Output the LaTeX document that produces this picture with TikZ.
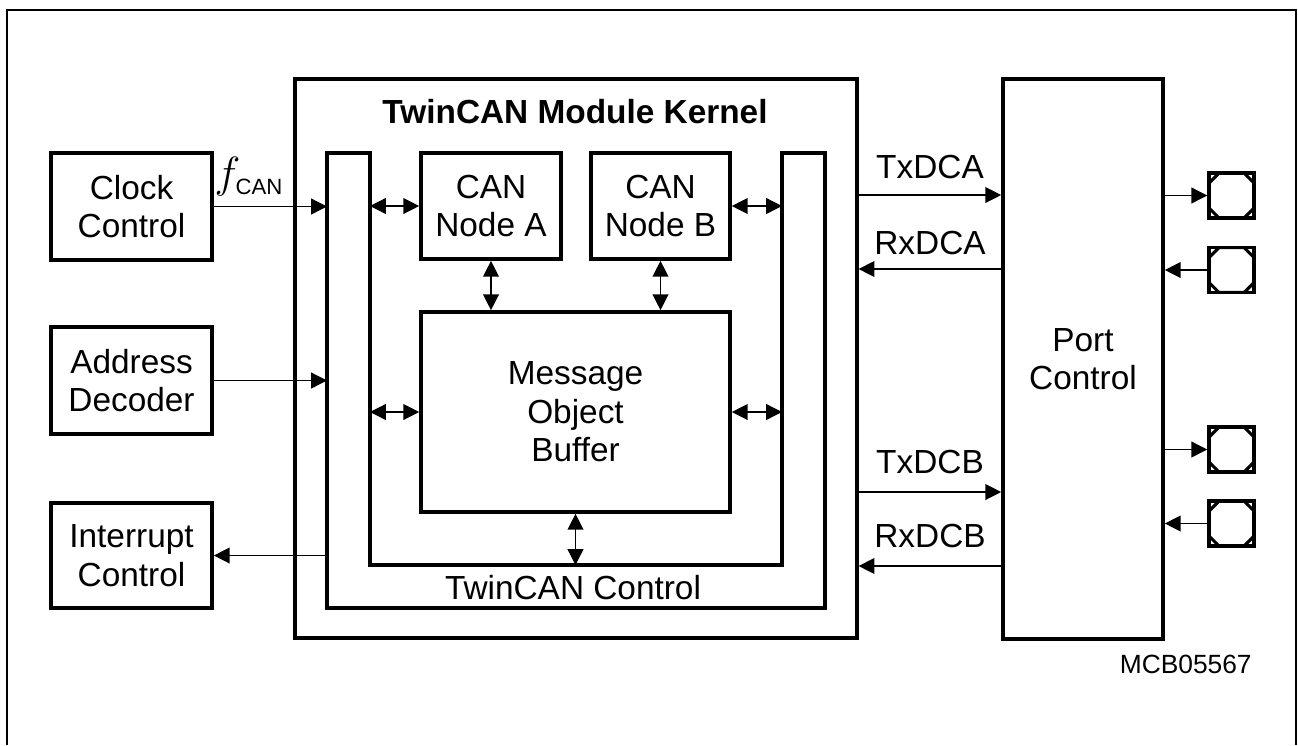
\documentclass[tikz,border=0pt]{standalone}
\usepackage{fontspec}
\setmainfont{Liberation Sans}
\usepackage{amsmath}
\usetikzlibrary{arrows.meta}

\begin{document}
\begin{tikzpicture}[x=0.02cm,y=-0.02cm]
			\tikzstyle{cadre}=[line width=1.3pt]
			\tikzstyle{boite}=[draw,line width=2.1pt,align=center,inner sep=0pt,font=\fontsize{19}{22}\selectfont]
			\tikzstyle{fleche}=[line width=0.75pt,-{Triangle[length=9pt,width=9pt]}]
			\tikzstyle{flechedouble}=[line width=0.75pt,{Triangle[length=9pt,width=9pt]}-{Triangle[length=9pt,width=9pt]}]
			\tikzstyle{etiquette}=[anchor=base,inner sep=0pt,font=\fontsize{19}{22}\selectfont]
			\def\Coin{0.2cm}
			\tikzstyle{broche}=[draw,line width=2pt,minimum size=0.9cm,inner sep=0pt,
				path picture={\draw[line width=1.8pt] ([xshift=\Coin]path picture bounding box.north west) -- ([xshift=-\Coin]path picture bounding box.north east) -- ([yshift=-\Coin]path picture bounding box.north east) -- ([yshift=\Coin]path picture bounding box.south east) -- ([xshift=-\Coin]path picture bounding box.south east) -- ([xshift=\Coin]path picture bounding box.south west) -- ([yshift=\Coin]path picture bounding box.south west) -- ([yshift=-\Coin]path picture bounding box.north west) -- cycle;}]
			\def\ColGauche{131.5}
			\def\ColBroche{1231.5}
			\def\ColSignal{930}
			\useasboundingbox (0,0) rectangle (1298,745);
			\draw[cadre] (7,745) -- (7,10) -- (1296,10) -- (1296,745);
			% blocs de gauche
			\node[boite,minimum width=3.22cm,minimum height=2.14cm] (horloge) at (\ColGauche,206.5) {Clock\\Control};
			\node[boite,minimum width=3.22cm,minimum height=2.14cm] (adresse) at (\ColGauche,380.5) {Address\\Decoder};
			\node[boite,minimum width=3.22cm,minimum height=2.1cm] (interruption) at (\ColGauche,555.5) {Interrupt\\Control};
			\node[inner sep=0pt,font=\fontsize{23}{26}\selectfont] (fcan) at (249,177) {$f_{\mbox{\fontsize{12.6}{14}\selectfont CAN}}$};
			% noyau
			\node[boite,line width=1.9pt,minimum width=11.24cm,minimum height=11.18cm] (noyau) at (576,358.5) {};
			\node[etiquette,font=\bfseries\fontsize{19}{22}\selectfont] (titre) at (575,123) {TwinCAN Module Kernel};
			\coordinate (Ug) at (327,153);
			\coordinate (Ugi) at (370,153);
			\coordinate (Udi) at (782,153);
			\coordinate (Ub) at (576,565);
			\draw[line width=2.1pt] (327,153) -- (327,608) -- (825,608) -- (825,153) -- (782,153) -- (782,565) -- (370,565) -- (370,153) -- cycle;
			\node[etiquette] (controle) at (573,599) {TwinCAN Control};
			\node[boite,minimum width=2.8cm,minimum height=2.12cm] (canA) at (491,206) {CAN\\Node A};
			\node[boite,minimum width=2.78cm,minimum height=2.12cm] (canB) at (660.5,206) {CAN\\Node B};
			\node[boite,minimum width=6.18cm,minimum height=4cm] (tampon) at (575.5,412) {Message\\Object\\Buffer};
			% port
			\node[boite,minimum width=3.2cm,minimum height=11.2cm] (port) at (1083,359) {Port\\Control};
			\node[broche] (broche1) at (\ColBroche,195.5) {};
			\node[broche] (broche2) at (\ColBroche,270) {};
			\node[broche] (broche3) at (\ColBroche,449.5) {};
			\node[broche] (broche4) at (\ColBroche,523.5) {};
			\coordinate (tA) at (\ColSignal,195);
			\coordinate (rA) at (\ColSignal,269);
			\coordinate (tB) at (\ColSignal,492);
			\coordinate (rB) at (\ColSignal,566);
			\node[etiquette] (txa) at (\ColSignal,178) {TxDCA};
			\node[etiquette] (rxa) at (\ColSignal,254) {RxDCA};
			\node[etiquette] (txb) at (\ColSignal,473) {TxDCB};
			\node[etiquette] (rxb) at (\ColSignal,547) {RxDCB};
			\node[etiquette,anchor=base east,font=\fontsize{15}{18}\selectfont] (ref) at (1252,673) {MCB05567};
			% liaisons
			\draw[fleche] (horloge.east) -- (horloge.east -| Ug);
			\draw[fleche] (adresse.east) -- (adresse.east -| Ug);
			\draw[fleche] (interruption.east -| Ug) -- (interruption.east);
			\draw[flechedouble] (canA.west -| Ugi) -- (canA.west);
			\draw[flechedouble] (canB.east) -- (canB.east -| Udi);
			\draw[flechedouble] (tampon.west -| Ugi) -- (tampon.west);
			\draw[flechedouble] (tampon.east) -- (tampon.east -| Udi);
			\draw[flechedouble] (canA.south) -- (canA.south |- tampon.north);
			\draw[flechedouble] (canB.south) -- (canB.south |- tampon.north);
			\draw[flechedouble] (tampon.south) -- (tampon.south |- Ub);
			\draw[fleche] (noyau.east |- tA) -- (port.west |- tA);
			\draw[fleche] (port.west |- rA) -- (noyau.east |- rA);
			\draw[fleche] (noyau.east |- tB) -- (port.west |- tB);
			\draw[fleche] (port.west |- rB) -- (noyau.east |- rB);
			\draw[fleche] (port.east |- broche1) -- (broche1.west);
			\draw[fleche] (broche2.west) -- (port.east |- broche2);
			\draw[fleche] (port.east |- broche3) -- (broche3.west);
			\draw[fleche] (broche4.west) -- (port.east |- broche4);
		\end{tikzpicture}
\end{document}
